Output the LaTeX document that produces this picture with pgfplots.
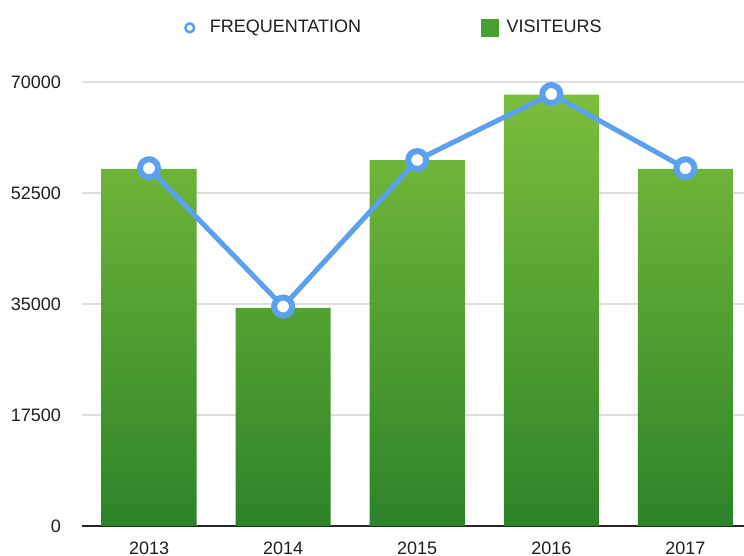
\documentclass[border=0pt]{standalone}
\usepackage{pgfplots}
\pgfplotsset{compat=1.18}
\usetikzlibrary{calc}
\usepackage{fontspec}
\setmainfont{Liberation Sans}

\definecolor{gridgray}{RGB}{222,222,222}
\definecolor{lineblue}{RGB}{92,160,240}
\definecolor{bartop}{RGB}{124,190,60}
\definecolor{barbottom}{RGB}{44,132,40}
\definecolor{legendgreen}{RGB}{72,160,52}
\definecolor{textdark}{RGB}{30,30,30}

\begin{document}
\begin{tikzpicture}
\begin{axis}[
  scale only axis,
  width=331pt, height=222pt,
  xmin=-0.5, xmax=4.437,
  ymin=0, ymax=70000,
  axis x line*=bottom,
  axis y line*=left,
  y axis line style={draw=none},
  x axis line style={draw=black!85, line width=1pt, -},
  xtick={0,1,2,3,4},
  xticklabels={2013,2014,2015,2016,2017},
  major x tick style={draw=none},
  ytick={0,17500,35000,52500,70000},
  ymajorgrids,
  y grid style={gridgray, line width=0.8pt},
  major y tick style={draw=none},
  scaled y ticks=false,
  /pgf/number format/assume math mode=true,
  yticklabel={\pgfmathprintnumber[fixed,precision=0,1000 sep={}]{\tick}},
  tick label style={font=\fontsize{9}{10}\selectfont, text=textdark},
  xticklabel style={yshift=-4.5pt},
  yticklabel style={xshift=-7pt},
  clip=false,
  legend columns=2,
  legend style={
    draw=none, fill=none,
    at={(0.1435,1.122)}, anchor=west,
    font=\fontsize{9}{10}\selectfont,
    text=textdark,
    /tikz/every even column/.append style={column sep=58pt},
  },
]
\addplot[
  ybar, bar width=0.709, draw=none,
  top color=bartop, bottom color=barbottom,
  forget plot,
] coordinates {(0,56300) (1,34400) (2,57700) (3,68000) (4,56300)};

\addplot[
  lineblue, line width=2.5pt,
  mark=*, mark size=4.5pt,
  mark options={draw=lineblue, fill=white, line width=3pt},
  legend image code/.code={
    \path[draw=none, fill=none] (-3.2pt,0) -- (8pt,0);
    \draw[draw=lineblue, fill=white, line width=1.3pt] (0pt,0) circle (2.2pt);
  },
] coordinates {(0,56400) (1,34600) (2,57700) (3,68100) (4,56400)};
\addlegendentry{FREQUENTATION}

\addlegendimage{
  legend image code/.code={
    \path[draw=none, fill=none] (0pt,0) -- (10.5pt,0);
    \fill[legendgreen] (0pt,-4.2pt) rectangle ++(8.5pt,8.5pt);
  }
}
\addlegendentry{VISITEURS}

\coordinate (O) at (rel axis cs:0,0);
\end{axis}
\pgfresetboundingbox
\path[use as bounding box] ($(O)+(-41pt,-15pt)$) rectangle ($(O)+(331pt,263pt)$);
\end{tikzpicture}
\end{document}
